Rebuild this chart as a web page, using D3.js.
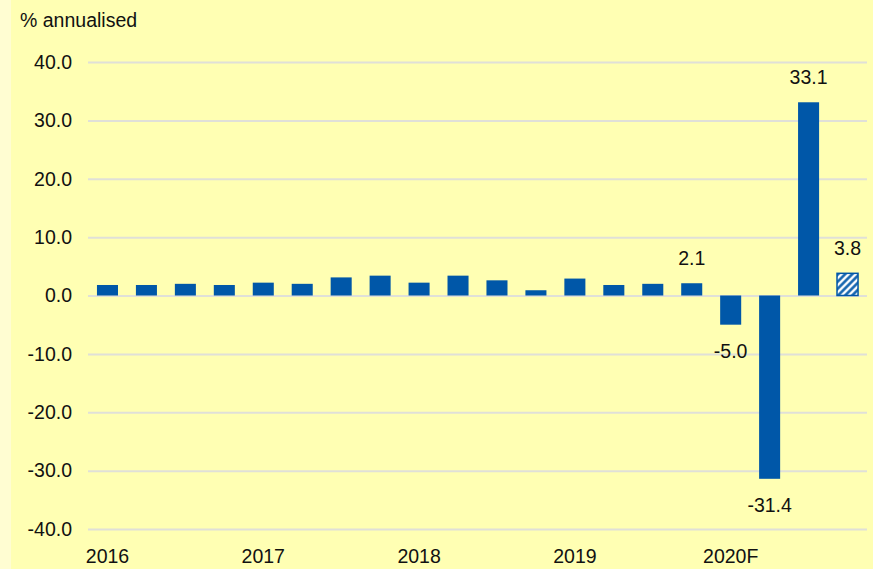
<!DOCTYPE html>
<html>
<head>
<meta charset="utf-8">
<script src="https://cdn.jsdelivr.net/npm/d3@7"></script>
<style>
  html, body { margin: 0; padding: 0; background: #ffffb3; }
  svg { display: block; font-family: "Liberation Sans", Arial, sans-serif; }
</style>
</head>
<body>
<svg id="chart" width="873" height="569"></svg>
<script>
// quarters 2016Q1 .. 2020Q4 (last one is forecast)
const quarters = ["2016Q1","2016Q2","2016Q3","2016Q4","2017Q1","2017Q2","2017Q3","2017Q4",
                  "2018Q1","2018Q2","2018Q3","2018Q4","2019Q1","2019Q2","2019Q3","2019Q4",
                  "2020Q1","2020Q2","2020Q3","2020Q4"];
const growth = [1.8, 1.8, 2.0, 1.8, 2.2, 2.0, 3.1, 3.4, 2.2, 3.4, 2.6, 0.9, 2.9, 1.8, 2.0, 2.1, -5.0, -31.4, 33.1, 3.8];
const forecast = [false, false, false, false, false, false, false, false, false, false,
                  false, false, false, false, false, false, false, false, false, true];
const labelled = ["2019Q4", "2020Q1", "2020Q2", "2020Q3", "2020Q4"];
const yearTicks = ["2016Q1", "2017Q1", "2018Q1", "2019Q1", "2020Q1"];
const yearLabels = ["2016", "2017", "2018", "2019", "2020F"];
const yTicks = [-40, -30, -20, -10, 0, 10, 20, 30, 40];

const blue = "#0057a8";
const fontSize = 19.5;
// plain hyphen for negatives, as in the original
const fmt = d3.formatLocale({ decimal: ".", thousands: ",", grouping: [3], currency: ["", ""], minus: "-" }).format(".1f");

const svg = d3.select("#chart");

// background, with the paler strip at the left edge
svg.append("rect").attr("width", 873).attr("height", 569).attr("fill", "#ffffb3");
svg.append("rect").attr("width", 11).attr("height", 569).attr("fill", "#fffdd2");

// hatch for forecast bar
const pat = svg.append("defs").append("pattern")
    .attr("id", "hatch")
    .attr("patternUnits", "userSpaceOnUse")
    .attr("width", 5).attr("height", 5)
    .attr("patternTransform", "rotate(45)");
pat.append("rect").attr("width", 5).attr("height", 5).attr("fill", "#fff");
pat.append("line").attr("x1", 1.5).attr("y1", 0).attr("x2", 1.5).attr("y2", 5)
    .attr("stroke", blue).attr("stroke-width", 2.4);

// scales
const x = d3.scaleBand().domain(quarters).range([88, 867])
    .paddingInner(0.46).paddingOuter(0.23);
const y = d3.scaleLinear().domain([-40, 40]).range([529, 62]);

// y axis with grid lines
const yAxis = svg.append("g")
    .attr("transform", "translate(88,0)")
    .call(d3.axisLeft(y).tickValues(yTicks).tickFormat(fmt)
        .tickSize(-779).tickPadding(16));
yAxis.select(".domain").remove();
yAxis.selectAll(".tick line").attr("stroke", "#e0e0d8").attr("stroke-width", 2);
yAxis.selectAll(".tick text").attr("font-size", fontSize).attr("fill", "#111")
    .style("font-family", "'Liberation Sans', Arial, sans-serif");

// x axis: year labels under first quarter
const xAxis = svg.append("g")
    .attr("transform", "translate(0,529)")
    .call(d3.axisBottom(x).tickValues(yearTicks)
        .tickFormat((d, i) => yearLabels[i]).tickSize(0));
xAxis.select(".domain").remove();
xAxis.selectAll(".tick text").attr("y", 27).attr("dy", "0.35em")
    .attr("font-size", fontSize).attr("fill", "#111")
    .style("font-family", "'Liberation Sans', Arial, sans-serif");

// bars
const data = quarters.map((q, i) => ({ q: q, v: growth[i], f: forecast[i] }));
svg.append("g").selectAll("rect")
    .data(data)
    .join("rect")
    .attr("x", d => x(d.q))
    .attr("width", x.bandwidth())
    .attr("y", d => y(Math.max(0, d.v)))
    .attr("height", d => Math.abs(y(d.v) - y(0)))
    .attr("fill", d => d.f ? "url(#hatch)" : blue)
    .attr("stroke", d => d.f ? blue : "none")
    .attr("stroke-width", 1.5);

// value labels
svg.append("g").selectAll("text")
    .data(data.filter(d => labelled.includes(d.q)))
    .join("text")
    .attr("x", d => x(d.q) + x.bandwidth() / 2)
    .attr("y", d => d.v >= 0 ? y(d.v) - 25 : y(d.v) + 26)
    .attr("dy", "0.35em")
    .attr("text-anchor", "middle")
    .attr("font-size", fontSize)
    .attr("fill", "#111")
    .text(d => fmt(d.v));

// unit label
svg.append("text")
    .attr("x", 20).attr("y", 20)
    .attr("dy", "0.35em")
    .attr("font-size", fontSize)
    .attr("fill", "#111")
    .text("% annualised");
</script>
</body>
</html>
